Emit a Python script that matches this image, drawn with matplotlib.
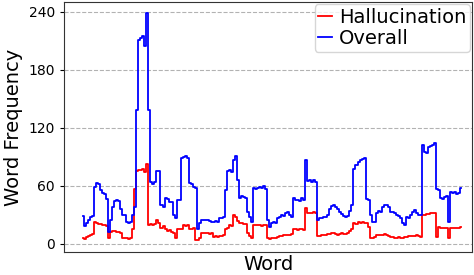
import matplotlib
matplotlib.use("Agg")
import matplotlib.pyplot as plt
import numpy as np

overall = [
    29, 19, 22, 25, 28, 29, 59, 63, 62, 56,
    53, 52, 47, 12, 25, 38, 44, 45, 44, 36,
    30, 30, 23, 22, 23, 30, 38, 139, 211, 213,
    215, 205, 239, 139, 64, 62, 64, 75, 75, 40,
    38, 48, 47, 43, 43, 30, 27, 45, 45, 89,
    90, 91, 89, 63, 62, 59, 58, 15, 22, 25,
    25, 25, 25, 24, 23, 23, 24, 23, 27, 27,
    28, 56, 76, 77, 74, 87, 91, 66, 48, 50,
    49, 48, 33, 28, 23, 58, 57, 58, 59, 58,
    60, 57, 25, 18, 22, 23, 22, 27, 28, 30,
    29, 32, 33, 30, 28, 48, 45, 46, 44, 48,
    45, 87, 65, 66, 64, 66, 64, 25, 27, 27,
    28, 28, 30, 36, 39, 40, 38, 36, 33, 31,
    29, 28, 29, 34, 40, 78, 82, 85, 87, 88,
    89, 47, 45, 30, 23, 23, 32, 34, 33, 38,
    40, 40, 38, 33, 33, 32, 30, 29, 27, 22,
    20, 28, 27, 30, 33, 35, 32, 30, 30, 102,
    95, 94, 100, 101, 102, 104, 57, 56, 48, 47,
    49, 50, 23, 54, 53, 54, 52, 53, 58,
]

hallucination = [
    6, 5, 7, 8, 9, 10, 23, 22, 21, 21,
    20, 20, 19, 6, 12, 13, 13, 12, 12, 11,
    6, 6, 6, 5, 6, 16, 57, 75, 77, 77,
    78, 74, 83, 20, 21, 20, 21, 25, 22, 17,
    19, 16, 13, 14, 12, 11, 6, 16, 16, 16,
    20, 19, 20, 16, 16, 17, 4, 4, 6, 11,
    11, 11, 11, 10, 11, 7, 8, 7, 8, 8,
    9, 16, 17, 20, 19, 30, 28, 24, 22, 22,
    21, 21, 11, 8, 6, 20, 20, 20, 20, 19,
    20, 20, 6, 5, 6, 6, 6, 7, 8, 8,
    9, 9, 9, 9, 10, 15, 15, 14, 15, 15,
    14, 37, 32, 32, 32, 33, 32, 8, 8, 9,
    9, 9, 10, 10, 11, 11, 10, 9, 10, 11,
    10, 10, 11, 13, 16, 22, 21, 23, 22, 23,
    22, 22, 18, 6, 6, 7, 9, 9, 9, 9,
    10, 9, 8, 7, 7, 6, 6, 7, 6, 6,
    7, 7, 8, 8, 8, 8, 9, 8, 7, 30,
    30, 31, 31, 32, 32, 32, 7, 18, 17, 17,
    17, 17, 6, 17, 17, 17, 17, 17, 18,
]

y_ticks = [0, 60, 120, 180, 240]

words = np.arange(len(overall))

fig = plt.figure(figsize=(4.74, 2.75), dpi=100)
ax = fig.add_axes([0.135, 0.0836, 0.861, 0.909])

ax.plot(words, hallucination, color="red", lw=1.3, drawstyle="steps-mid", label="Hallucination")
ax.plot(words, overall, color="blue", lw=1.3, drawstyle="steps-mid", label="Overall")

ax.set_xlim(-9.5, len(overall) + 4.5)
ax.set_ylim(-8.3, 250.3)
ax.set_yticks(y_ticks)
ax.set_xticks([])
ax.tick_params(axis="y", labelsize=10, length=3)
ax.grid(axis="y", linestyle="--", color="gray", alpha=0.6, lw=0.8)
for s in ax.spines.values():
    s.set_color("#333333")

ax.set_xlabel("Word", fontsize=14, labelpad=2)
ax.set_ylabel("Word Frequency", fontsize=14, labelpad=4)

ax.legend(loc="upper right", fontsize=14, handlelength=0.7, handletextpad=0.35,
          borderpad=0.2, labelspacing=0.1, borderaxespad=0.1)

fig.savefig("out.png", dpi=100)
